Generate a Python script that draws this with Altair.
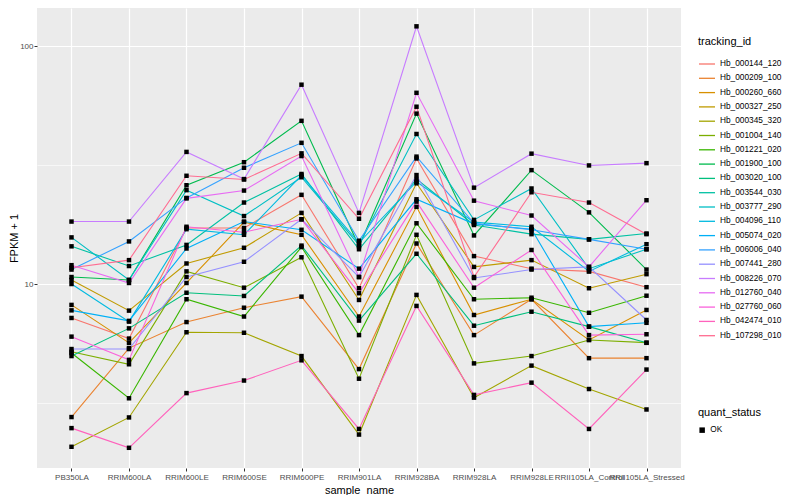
import altair as alt
import pandas as pd

samples = ["PB350LA", "RRIM600LA", "RRIM600LE", "RRIM600SE", "RRIM600PE", "RRIM901LA",
           "RRIM928BA", "RRIM928LA", "RRIM928LE", "RRII105LA_Control", "RRII105LA_Stressed"]

ids = ["Hb_000144_120", "Hb_000209_100", "Hb_000260_660", "Hb_000327_250", "Hb_000345_320",
       "Hb_001004_140", "Hb_001221_020", "Hb_001900_100", "Hb_003020_100", "Hb_003544_030",
       "Hb_003777_290", "Hb_004096_110", "Hb_005074_020", "Hb_006006_040", "Hb_007441_280",
       "Hb_008226_070", "Hb_012760_040", "Hb_027760_060", "Hb_042474_010", "Hb_107298_010"]

colors = ["#F8766D", "#EA8331", "#D89000", "#C09B00", "#A3A500", "#7CAE00", "#39B600", "#00BB4E",
          "#00BF7D", "#00C1A3", "#00BFC4", "#00BAE0", "#00B0F6", "#35A2FF", "#9590FF", "#C77CFF",
          "#E76BF3", "#FA62DB", "#FF62BC", "#FF6C91"]

hb_000144_120 = [7.2, 5.9, 17.2, 17.2, 23.7, 9.6, 33.7, 13.1, 11.6, 11.3, 9.7]
hb_000209_100 = [2.76, 5.38, 6.92, 7.95, 8.85, 4.39, 14.8, 6.1, 8.63, 4.88, 4.88]
hb_000260_660 = [8.17, 5.66, 10.1, 18.2, 16.1, 7.3, 21.1, 7.41, 8.63, 5.82, 7.78]
hb_000327_250 = [10.4, 7.73, 12.2, 14.2, 19.9, 8.57, 26.5, 11.8, 12.6, 9.6, 11.0]
hb_000345_320 = [2.07, 2.75, 6.27, 6.24, 4.98, 2.33, 9.0, 3.33, 4.54, 3.62, 2.97]
hb_001004_140 = [5.19, 4.6, 11.3, 9.65, 12.95, 4.0, 16.1, 4.64, 4.98, 5.82, 5.67]
hb_001221_020 = [5.13, 3.31, 8.63, 7.3, 14.3, 6.1, 18.0, 8.63, 8.76, 7.57, 8.93]
hb_001900_100 = [10.7, 10.4, 26.0, 32.5, 48.5, 14.4, 52.0, 16.0, 30.1, 20.0, 11.5]
hb_003020_100 = [4.98, 6.51, 9.19, 8.91, 14.5, 7.02, 13.4, 6.68, 7.65, 6.62, 5.66]
hb_003544_030 = [14.4, 11.9, 14.6, 22.0, 29.0, 14.0, 27.6, 17.7, 16.2, 15.4, 16.3]
hb_003777_290 = [15.7, 10.4, 24.8, 19.3, 28.1, 14.6, 42.7, 18.6, 25.2, 11.6, 14.0]
hb_004096_110 = [10.0, 6.95, 17.0, 16.1, 28.6, 14.9, 26.9, 18.2, 17.4, 11.3, 14.7]
hb_005074_020 = [7.75, 7.0, 14.1, 18.3, 16.9, 11.6, 22.7, 17.9, 17.0, 6.62, 6.87]
hb_006006_040 = [11.5, 15.1, 23.0, 30.8, 39.2, 15.2, 34.3, 18.0, 16.9, 15.4, 14.0]
hb_007441_280 = [5.33, 5.33, 10.7, 12.4, 18.7, 10.7, 28.7, 10.6, 11.5, 11.8, 7.06]
hb_008226_070 = [18.3, 18.3, 35.9, 27.6, 68.8, 19.9, 121.0, 25.4, 35.3, 31.5, 32.2]
hb_012760_040 = [12.0, 10.1, 22.9, 24.7, 34.5, 10.7, 63.6, 22.4, 19.4, 11.8, 22.5]
hb_027760_060 = [6.01, 4.8, 17.4, 16.5, 18.7, 9.15, 22.2, 9.65, 13.9, 6.1, 6.15]
hb_042474_010 = [2.48, 2.05, 3.48, 3.93, 4.78, 2.46, 8.09, 3.42, 3.85, 2.46, 4.37]
hb_107298_010 = [11.7, 12.6, 28.5, 27.5, 35.4, 18.8, 55.6, 10.7, 24.3, 22.0, 16.2]

series = [hb_000144_120, hb_000209_100, hb_000260_660, hb_000327_250, hb_000345_320,
          hb_001004_140, hb_001221_020, hb_001900_100, hb_003020_100, hb_003544_030,
          hb_003777_290, hb_004096_110, hb_005074_020, hb_006006_040, hb_007441_280,
          hb_008226_070, hb_012760_040, hb_027760_060, hb_042474_010, hb_107298_010]

y_ticks = [10 ** 0.5, 10, 10 ** 1.5, 100]

rows = []
for tid, vals in zip(ids, series):
    for s, v in zip(samples, vals):
        rows.append({"tracking_id": tid, "sample_name": s, "fpkm": v, "quant_status": "OK"})
df = pd.DataFrame(rows)

FONT = "Liberation Sans"
major = "datum.value == 10 || datum.value == 100"

x_enc = alt.X("sample_name:N", sort=samples,
              scale=alt.Scale(type="point", padding=0.6),
              axis=alt.Axis(title="sample_name", labelAngle=0, labelOverlap=False,
                            labelBound=False, grid=True, gridWidth=1.2))
y_enc = alt.Y("fpkm:Q",
              scale=alt.Scale(type="log", domain=[1.686, 144.5], nice=False),
              axis=alt.Axis(title="FPKM + 1", values=y_ticks, grid=True,
                            titlePadding=0, labelPadding=1,
                            labelExpr="datum.value == 10 ? '10' : (datum.value == 100 ? '100' : '')",
                            gridWidth={"condition": {"test": major, "value": 1.2}, "value": 0.6},
                            tickOpacity={"condition": {"test": major, "value": 1}, "value": 0}))

lines = alt.Chart(df).mark_line(strokeWidth=1.1).encode(
    x=x_enc, y=y_enc,
    color=alt.Color("tracking_id:N", scale=alt.Scale(domain=ids, range=colors),
                    legend=alt.Legend(title="tracking_id", symbolType="stroke",
                                      symbolStrokeWidth=1.3, symbolSize=256, rowPadding=1.3,
                                      orient="none", legendX=661, legendY=28)),
    detail="tracking_id:N",
)

points = alt.Chart(df).mark_point(filled=True, size=20, opacity=1).encode(
    x=x_enc, y=y_enc,
    color=alt.value("black"),
    shape=alt.Shape("quant_status:N", scale=alt.Scale(domain=["OK"], range=["square"]),
                    legend=alt.Legend(title="quant_status", symbolFillColor="black",
                                      symbolStrokeColor="black", symbolSize=30,
                                      orient="none", legendX=661, legendY=399)),
)

chart = alt.layer(lines, points).properties(
    width=644, height=460, padding=0
).configure_view(
    fill="#EBEBEB", strokeWidth=0
).configure_axis(
    domain=False, gridColor="#FFFFFF", labelFont=FONT, titleFont=FONT,
    labelFontSize=8, labelColor="#4D4D4D", tickColor="#333333", tickSize=3,
    titleFontSize=11, titleFontWeight="normal", titleColor="#000000",
    labelPadding=2, titlePadding=3,
).configure_legend(
    labelFont=FONT, titleFont=FONT, labelFontSize=8.3, titleFontSize=11,
    titleFontWeight="normal", labelColor="#000000", titleColor="#000000",
    titlePadding=8,
)

chart.save("out.html", embed_options={"renderer": "svg", "actions": False})
